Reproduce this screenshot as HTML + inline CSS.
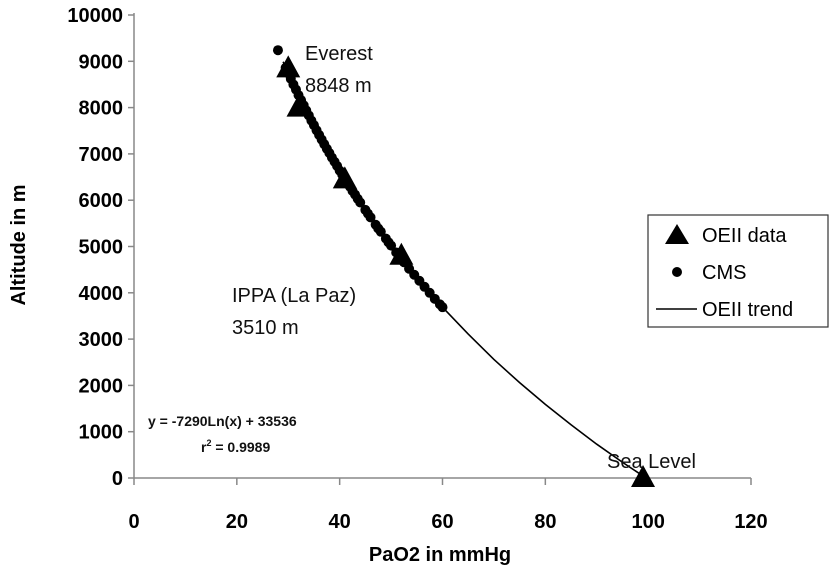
<!DOCTYPE html>
<html><head><meta charset="utf-8"><style>
html,body{margin:0;padding:0;background:#fff;}
svg{display:block;font-family:"Liberation Sans",Arial,sans-serif;}
</style></head><body>
<svg id="chart" width="832" height="581" viewBox="0 0 832 581">
<g id="axes"></g>
<g id="trend"></g>
<g id="cms"></g>
<g id="oeii"></g>
<g font-size="20" fill="#111">
<text x="305" y="60">Everest</text>
<text x="305" y="92">8848 m</text>
<text x="232" y="302">IPPA (La Paz)</text>
<text x="232" y="334">3510 m</text>
<text x="607" y="468">Sea Level</text>
<text x="148" y="426" font-size="14" font-weight="bold">y = -7290Ln(x) + 33536</text>
<text x="201" y="452" font-size="14" font-weight="bold">r<tspan font-size="9" dy="-6">2</tspan><tspan dy="6"> = 0.9989</tspan></text>
</g>
<text x="440" y="561" font-size="20" font-weight="bold" text-anchor="middle">PaO2 in mmHg</text>
<text transform="translate(25,245) rotate(-90)" font-size="20" font-weight="bold" text-anchor="middle">Altitude in m</text>
<g>
<rect x="648" y="215" width="180" height="112" fill="#fff" stroke="#333" stroke-width="1.2"/>
<polygon points="677,224 689,244 665,244" fill="#000"/>
<text x="702" y="242" font-size="20">OEII data</text>
<circle cx="677" cy="272" r="5" fill="#000"/>
<text x="702" y="279" font-size="20">CMS</text>
<line x1="656" y1="309" x2="697" y2="309" stroke="#000" stroke-width="1.5"/>
<text x="702" y="316" font-size="20">OEII trend</text>
</g>
</svg>
<script>
const xTicks=[0,20,40,60,80,100,120];
const yTicks=[0,1000,2000,3000,4000,5000,6000,7000,8000,9000,10000];
const oeiiX=[30,32,41,52,99];
const oeiiY=[8848,8000,6450,4800,0];
const cmsX=[28,29.5,30,30.5,31,31.5,32,32.5,33,33.5,34,34.5,35,35.5,36,36.5,37,37.5,38,38.5,39,39.5,40,40.5,41,42,42.5,43,43.5,44,45,45.5,46,47,47.5,48,49,49.5,50,51,52.5,53.5,54.5,55.5,56.5,57.5,58.5,59.5,60];
const cmsY=[9240,8860,8740,8620,8500,8390,8270,8160,8050,7940,7830,7720,7620,7510,7410,7310,7210,7110,7020,6920,6830,6740,6640,6550,6470,6290,6200,6120,6030,5950,5790,5710,5630,5470,5390,5320,5170,5090,5020,4870,4660,4520,4390,4260,4130,4000,3870,3750,3690];
const trendX=[29,32,36,40,45,50,55,60,65,70,75,80,85,90,95,100];
const trendY=[8990,8270,7410,6640,5780,5020,4320,3690,3110,2560,2060,1590,1150,730,340,-30];
const NS='http://www.w3.org/2000/svg';
const X0=134,X1=751,Y0=478,Y1=15;
function sx(v){return X0+(v-0)/(120-0)*(X1-X0);}
function sy(v){return Y0-(v-0)/(10000-0)*(Y0-Y1);}
function mk(tag,attrs,parent){const e=document.createElementNS(NS,tag);for(const k in attrs)e.setAttribute(k,attrs[k]);parent.appendChild(e);return e;}
const axes=document.getElementById('axes');
let e=mk('line',{x1:X0,y1:Y1-2,x2:X0,y2:Y0,stroke:'#888','stroke-width':1.5},axes);


e=mk('line',{x1:X0,y1:Y0,x2:X1,y2:Y0,stroke:'#888','stroke-width':1.5},axes);


yTicks.forEach(v=>{
  let t=mk('line',{x1:X0-6,y1:sy(v),x2:X0,y2:sy(v),stroke:'#888','stroke-width':1.5},axes);
  
  
  let l=mk('text',{x:X0-11,y:sy(v)+7,'text-anchor':'end','font-size':20,'font-weight':'bold'},axes);
  l.textContent=v;
  
  
});
xTicks.forEach(v=>{
  let t=mk('line',{x1:sx(v),y1:Y0,x2:sx(v),y2:Y0+7,stroke:'#888','stroke-width':1.5},axes);
  
  
  let l=mk('text',{x:sx(v),y:Y0+50,'text-anchor':'middle','font-size':20,'font-weight':'bold'},axes);
  l.textContent=v;
  
  
});
const tr=document.getElementById('trend');
let p=mk('polyline',{points:trendX.map((x,i)=>sx(x)+','+sy(trendY[i])).join(' '),fill:'none',stroke:'#000','stroke-width':1.6},tr);


const cg=document.getElementById('cms');
cmsX.forEach((x,i)=>{
  let c=mk('circle',{cx:sx(x),cy:sy(cmsY[i]),r:5,fill:'#000'},cg);
  
  
});
const og=document.getElementById('oeii');
oeiiX.forEach((x,i)=>{
  const cx=sx(x),cy=sy(oeiiY[i]);
  let t=mk('polygon',{points:`${cx},${cy-13} ${cx+12},${cy+9} ${cx-12},${cy+9}`,fill:'#000'},og);
  
  
});
</script>
</body></html>
